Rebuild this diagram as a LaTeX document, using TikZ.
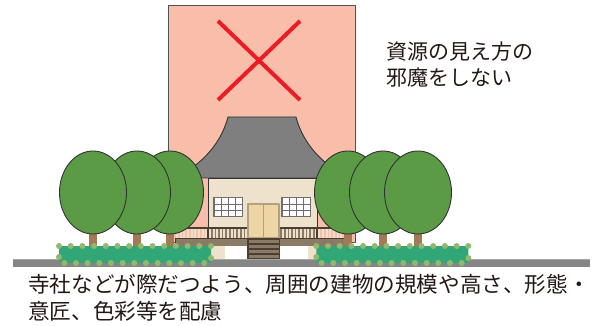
\documentclass[tikz,border=0pt]{standalone}
\usepackage{fontspec}
\newfontfamily\jpfont{Noto Sans CJK JP}
\definecolor{bgpink}{HTML}{F9BEA9}
\definecolor{crossred}{HTML}{ED1C24}
\definecolor{roofgray}{HTML}{7F7F80}
\definecolor{wallcream}{HTML}{EEE2CC}
\definecolor{postcream}{HTML}{EDE1CB}
\definecolor{doorbeige}{HTML}{EDD5A6}
\definecolor{doorframe}{HTML}{B3A07F}
\definecolor{framegray}{HTML}{6E6E6E}
\definecolor{floorbrown}{HTML}{8B7A66}
\definecolor{darkbrown}{HTML}{4B3E33}
\definecolor{leafgreen}{HTML}{5B9B46}
\definecolor{trunkbrown}{HTML}{A47A56}
\definecolor{hedgegreen}{HTML}{31A676}
\definecolor{budgreen}{HTML}{93B86D}
\definecolor{groundgray}{HTML}{858585}
\definecolor{outline}{HTML}{333333}
\definecolor{textgray}{HTML}{231815}
\tikzset{
  linework/.style={draw=outline, line width=0.9pt},
  treecrown/.style={linework, fill=leafgreen},
  trunk/.style={fill=trunkbrown},
  bud/.style={fill=budgreen},
  jptext/.style={inner sep=0pt, text=textgray, font=\jpfont\fontsize{21}{21}\selectfont},
  jpguide/.style={inner sep=0pt, text=textgray, font=\jpfont\fontsize{21.6}{21.6}\selectfont},
}
\begin{document}
\begin{tikzpicture}[x=1pt, y=-1pt, line join=round]
\useasboundingbox (0,0) rectangle (592,326);

% tall block behind the temple, crossed out
\draw[draw=outline!85, fill=bgpink, line width=0.8pt] (168.5,5) rectangle (355.5,242);
\draw[crossred, line width=4pt] (218,21) -- (300,100);
\draw[crossred, line width=4pt] (300,21) -- (218,100);

% temple roof
\draw[linework, fill=roofgray]
  (228,117) -- (296,117) .. controls (304,148) and (329,170) .. (353,178)
  -- (172,178) .. controls (195,170) and (220,148) .. (228,117) -- cycle;

% walls
\draw[linework, fill=wallcream] (208,178) rectangle (317,228);

% lattice windows
\foreach \wx in {213,281} {
  \fill[framegray] (\wx,197) rectangle ++(30,20);
  \foreach \i in {0,...,3}
    \foreach \j in {0,...,2}
      \fill[white] ({\wx+1.5+\i*7},{197+1.5+\j*6}) rectangle ++(6,5);
}

% veranda railing
\fill[floorbrown] (208,229) rectangle (317,238);
\foreach \k in {0,...,47}
  \fill[postcream] ({176+\k*3.65},229) rectangle ++(2,9);
\draw[darkbrown, line width=1.6pt] (175,228) -- (350,228);
\foreach \px in {208,317}
  \draw[darkbrown, line width=1.2pt] (\px,228) -- (\px,238);

% door
\draw[draw=doorframe, fill=doorbeige, line width=1.2pt] (248,204) rectangle (279,238);
\draw[doorframe, line width=1.2pt] (263.5,204) -- (263.5,238);

% floor and foundation
\draw[draw=darkbrown, fill=floorbrown, line width=0.8pt] (175,238) rectangle (350,246);
\fill[wallcream] (208,246.4) rectangle (317,259);
\fill[white] (225,246.4) rectangle (247,259);
\fill[white] (280,246.4) rectangle (308,259);

% stairs
\fill[darkbrown] (247,238) rectangle (280,259);
\foreach \s in {0,...,3}
  \fill[floorbrown] (248.5,{239.8+\s*5}) rectangle (278.5,{243.3+\s*5});

% trees, left group (front tree on the left)
\foreach \tx in {170,137,93} {
  \fill[trunk] ({\tx-4},225) rectangle ({\tx+4},247);
  \draw[treecrown] (\tx,192.5) ellipse [x radius=33.5pt, y radius=41.5pt];
}
% trees, right group (front tree on the right)
\foreach \tx in {348,383,418} {
  \fill[trunk] ({\tx-4},225) rectangle ({\tx+4},247);
  \draw[treecrown] (\tx,192.5) ellipse [x radius=33.5pt, y radius=41.5pt];
}

% ground
\fill[groundgray] (13,259) rectangle (590,267);
\draw[gray!70, line width=0.6pt] (13,259.3) -- (590,259.3);

% hedges with buds
\foreach \hx in {0,257.3} {
  \fill[hedgegreen, rounded corners=1.5pt] ({59+\hx},246) rectangle ({211+\hx},263);
  \foreach \k in {0,...,13}
    \fill[bud] ({59+\hx+\k*11.69},246) circle[radius=3pt];
  \foreach \k in {0,...,12}
    \fill[bud] ({64.3+\hx+\k*11.67},263) circle[radius=3pt];
  \fill[bud] ({59+\hx},257) circle[radius=3pt];
  \fill[bud] ({211+\hx},258) circle[radius=3pt];
}

% captions
\node[jptext, anchor=base west] (note1) at (386,59.5) {資源の見え方の};
\node[jptext, anchor=base west] (note2) at (386,85.5) {邪魔をしない};
\node[jpguide, anchor=base west] (guide1) at (28,292.5) {寺社などが際だつよう、周囲の建物の規模や高さ、形態・};
\node[jpguide, anchor=base west] (guide2) at (28,319) {意匠、色彩等を配慮};
\end{tikzpicture}
\end{document}
